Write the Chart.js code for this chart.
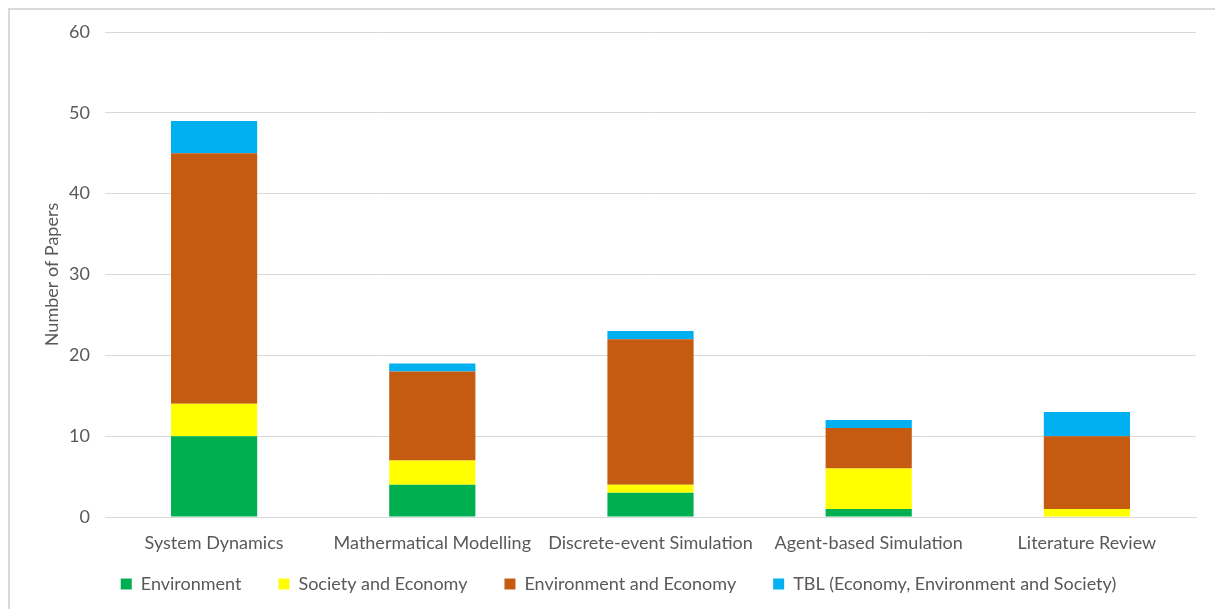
<!DOCTYPE html>
<html>
<head>
<meta charset="utf-8">
<script src="https://cdn.jsdelivr.net/npm/chart.js@4.4.1/dist/chart.umd.min.js"></script>
<style>
  html, body { margin: 0; padding: 0; background: #ffffff; }
  body { width: 1215px; height: 609px; position: relative; overflow: hidden; }
  #frame { position: absolute; left: 8px; top: 8px; width: 1260px; height: 660px;
           border: 2px solid #d9d9d9; box-sizing: border-box; }
  #wrap { position: absolute; left: 0; top: 0; width: 1215px; height: 609px; }
</style>
</head>
<body>
<div id="frame"></div>
<div id="wrap"><canvas id="chart"></canvas></div>
<script>
// Modelling approaches and the number of papers in each sustainability focus
const categories = ['System Dynamics', 'Mathermatical Modelling', 'Discrete-event Simulation', 'Agent-based Simulation', 'Literature Review'];
const environment = [10, 4, 3, 1, 0];
const societyEconomy = [4, 3, 1, 5, 1];
const environmentEconomy = [31, 11, 18, 5, 9];
const tbl = [4, 1, 1, 1, 3];
const yTicks = [0, 10, 20, 30, 40, 50, 60];

const FONT = 'Lato, "Open Sans", sans-serif';
const TEXT = '#595959';

function ds(label, data, color) {
  return {
    label, data,
    backgroundColor: color,
    borderWidth: 0,
    categoryPercentage: 1.0,
    barPercentage: 0.395
  };
}

// The category labels sit close to the legend; let the x axis box reach
// further down so its labels are not clipped by the scale's label area.
const extendXLabelArea = {
  id: 'extendXLabelArea',
  afterLayout(chart) {
    const x = chart.scales.x;
    x.bottom = x.top + 50;
    x.height = 50;
  }
};

new Chart(document.getElementById('chart'), {
  type: 'bar',
  data: {
    labels: categories,
    datasets: [
      ds('Environment', environment, '#00B050'),
      ds('Society and Economy', societyEconomy, '#FFFF00'),
      ds('Environment and Economy', environmentEconomy, '#C55A11'),
      ds('TBL (Economy, Environment and Society)', tbl, '#00B0F0')
    ]
  },
  plugins: [extendXLabelArea],
  options: {
    responsive: true,
    maintainAspectRatio: false,
    animation: false,
    layout: { padding: { left: 41, right: 19, top: 32, bottom: 6 } },
    plugins: {
      tooltip: { enabled: false },
      legend: {
        position: 'bottom',
        labels: {
          color: TEXT,
          font: { family: FONT, size: 18 },
          boxWidth: 11,
          boxHeight: 11,
          padding: 37
        }
      }
    },
    scales: {
      x: {
        stacked: true,
        grid: { display: false, drawTicks: false },
        border: { display: true, color: '#d9d9d9', width: 1 },
        ticks: { color: TEXT, font: { family: FONT, size: 18 }, padding: 15, maxRotation: 0, autoSkip: false },
        afterFit(scale) { scale.height = 21; }
      },
      y: {
        stacked: true,
        min: 0, max: 60,
        afterBuildTicks(scale) { scale.ticks = yTicks.map(v => ({ value: v })); },
        grid: { color: '#d9d9d9', drawTicks: false },
        border: { display: false },
        ticks: { color: TEXT, font: { family: FONT, size: 18 }, padding: 15 },
        title: { display: true, text: 'Number of Papers', color: TEXT, font: { family: FONT, size: 18 }, padding: 0 },
        afterFit(scale) { scale.width = 64; }
      }
    }
  }
});
</script>
</body>
</html>
